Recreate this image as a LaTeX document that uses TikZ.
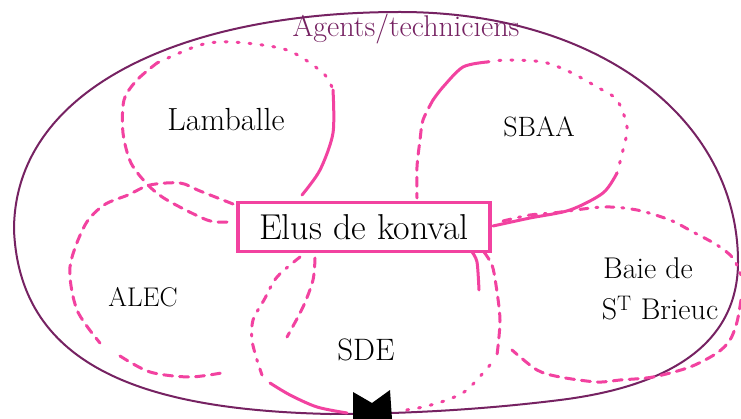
\documentclass[tikz,border=0pt]{standalone}
\usepackage{fontspec}
\definecolor{pinkc}{RGB}{242,66,160}
\definecolor{purplec}{RGB}{118,34,98}
\tikzset{
  pk/.style={draw=pinkc, line width=3pt, line cap=round, line join=round},
  pkdash/.style={pk, dash pattern=on 9pt off 7pt},
  pkdot/.style={pk, dash pattern=on 2pt off 10pt},
  pkdashdot/.style={pk, dash pattern=on 8pt off 8pt on 2pt off 8pt},
  lbl/.style={text=black, inner sep=0pt}
}
\begin{document}
\begin{tikzpicture}[x=1pt,y=-1pt]
\useasboundingbox (0,0) rectangle (741,419);
\fill[white] (0,0) rectangle (741,419);
% outer boundary
\draw[purplec, line width=2pt]
  (14,230) .. controls (14,90) and (180,12) .. (400,12)
           .. controls (600,12) and (738,120) .. (738,262)
           .. controls (738,360) and (640,390) .. (560,400)
           .. controls (480,410) and (400,414) .. (330,414)
           .. controls (150,410) and (20,370) .. cycle;
\node[text=purplec, inner sep=0pt, font=\fontsize{30}{32}\selectfont] (agents) at (406,29) {Agents/techniciens};
% Lamballe blob
\draw[pkdash] plot[smooth] coordinates {(227,222) (207,220) (167,200) (148,185) (131,163) (123,133) (124,100) (137,80) (157,63)};
\draw[pkdot] plot[smooth] coordinates {(157,63) (200,45) (233,42) (287,50) (323,73) (333,90)};
\draw[pk] plot[smooth] coordinates {(333,90) (333,133) (320,170) (302,195)};
% ALEC blob
\draw[pkdash] plot[smooth] coordinates {(233,204) (200,191) (180,183) (150,185) (128,195) (104,205) (85,225) (70,267) (77,310) (100,343)};
\draw[pkdash] plot[smooth] coordinates {(120,356) (150,372) (190,377) (227,372)};
% SDE blob
\draw[pkdashdot] plot[smooth] coordinates {(300,257) (277,277) (264,300) (253,320) (252,340) (257,360) (262,375)};
\draw[pk] plot[smooth] coordinates {(270,383) (290,395) (317,407) (347,413)};
\draw[pkdash] plot[smooth] coordinates {(315,258) (313,280) (303,307) (287,337)};
\draw[pk] plot[smooth] coordinates {(472,252) (477,262) (479,290)};
\draw[pkdash] plot[smooth] coordinates {(484,252) (492,265) (496,285) (500,320) (497,355)};
\draw[pkdot] plot[smooth] coordinates {(490,365) (467,390) (447,400) (423,407) (400,411)};
% SBAA blob
\draw[pk] plot[smooth] coordinates {(487,62) (463,67) (443,87) (433,100)};
\draw[pkdash] plot[smooth] coordinates {(433,100) (423,120) (420,140) (417,167) (417,198)};
\draw[pkdot] plot[smooth] coordinates {(487,62) (507,60) (543,62) (570,72) (597,87) (617,100) (627,127) (623,150) (617,173)};
\draw[pk] plot[smooth] coordinates {(617,173) (603,193) (570,210) (530,218) (493,226)};
% Baie de St Brieuc blob
\draw[pkdashdot] plot[smooth] coordinates {(503,221) (530,215) (553,213) (603,207) (637,210) (670,220) (693,232) (717,245) (733,258) (741,275)};
\draw[pkdash] plot[smooth] coordinates {(741,300) (737,322) (730,340) (717,353) (690,367) (653,377) (620,380) (597,382) (560,377) (537,370) (512,350)};
% central rectangle
\node[draw=pinkc, line width=3.5pt, minimum width=252pt, minimum height=49pt, inner sep=0pt,
      font=\fontsize{36}{38}\selectfont] (elus) at (364,227) {Elus de konval};
% labels
\node[lbl, font=\fontsize{32}{34}\selectfont] (lamballe) at (226,120) {Lamballe};
\node[lbl, font=\fontsize{28}{30}\selectfont] (sbaa) at (539,127) {SBAA};
\node[lbl, font=\fontsize{27}{29}\selectfont] (alec) at (143,297) {ALEC};
\node[lbl, font=\fontsize{31}{33}\selectfont] (sde) at (366,350) {SDE};
\node[lbl, font=\fontsize{30}{32}\selectfont] (baie) at (648,268) {Baie de};
\node[lbl, font=\fontsize{30}{32}\selectfont] (brieuc) at (660,308) {S\textsuperscript{T} Brieuc};
% black mark at bottom
\fill[black] (353,392) -- (372,403) -- (390,390) -- (392,419) -- (353,419) -- cycle;
\end{tikzpicture}
\end{document}
